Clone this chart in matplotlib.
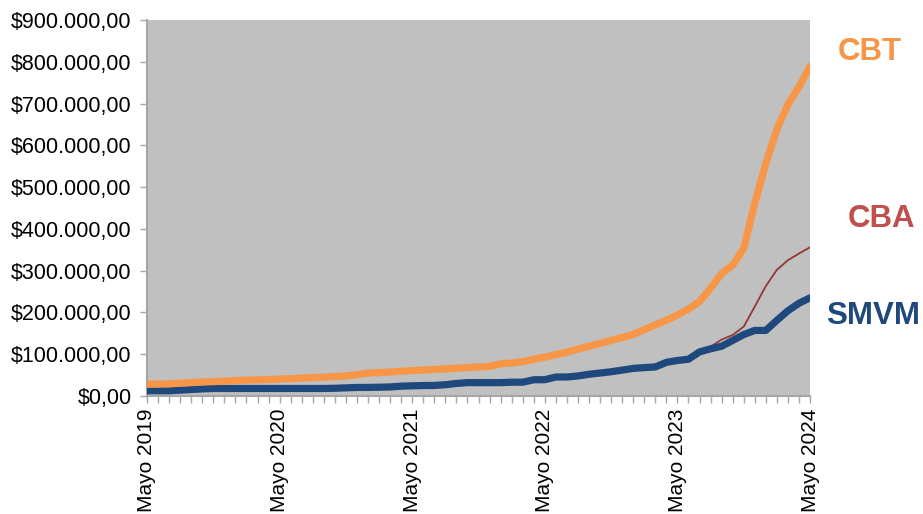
import matplotlib
matplotlib.use("Agg")
import matplotlib.pyplot as plt
from matplotlib.ticker import FuncFormatter, MultipleLocator

plt.rcParams['font.family'] = ['Liberation Sans', 'DejaVu Sans']

# meses desde mayo 2019 hasta mayo 2024 (valores en miles de $)
anios = ["Mayo 2019", "Mayo 2020", "Mayo 2021", "Mayo 2022", "Mayo 2023", "Mayo 2024"]

cbt = [28, 28.5, 29, 30.5, 32, 33.5, 34.5, 35.5, 37, 38, 38.5, 39.5, 40.5, 41.5, 43,
       44, 45, 46.5, 48, 51, 55, 56, 57.5, 59, 61, 62, 63.5, 65, 66.5, 68, 69.5,
       71, 77, 79, 82, 88, 93, 99, 105, 112, 119, 126, 133, 140, 147, 159, 170,
       181, 194, 208, 226, 258, 293, 313, 353, 461, 556, 638, 698, 740, 789]

cba = [13, 13.5, 14, 14.5, 15.5, 16.5, 17, 17.5, 18, 18.5, 18.5, 19, 19, 19.5, 19.5,
       20, 20, 20.5, 21, 21.5, 22.5, 23, 23.5, 24, 25, 25.5, 26, 27, 28.5, 30, 31,
       32, 33, 34, 35.5, 37, 39, 42, 44, 47, 50, 53, 56, 60, 64, 67, 71,
       78, 87, 92, 107, 118, 135, 146, 166, 214, 263, 302, 325, 341, 356]

smvm = [12.5, 12.5, 12.5, 14, 15.6, 17, 18, 18, 18, 18, 18, 18, 18, 18, 18,
        18, 18, 18.5, 19.5, 20.5, 20.5, 21, 21.6, 23.5, 24.4, 25, 25.3, 27, 30, 32, 32,
        32, 32, 33, 33, 38.9, 39, 45.5, 45.5, 48, 52, 55, 58, 62, 66, 68, 69.5,
        80.5, 85, 88, 105.5, 113, 119, 133, 147, 157, 157, 181, 204, 222, 235]

meses = list(range(len(cbt)))

fig = plt.figure(figsize=(9.23, 5.14), dpi=100)
ax = fig.add_axes([147/923, 1-396/514, (810-147)/923, (396-20)/514])
ax.set_facecolor('#C0C0C0')

ax.plot(meses, [v*1000 for v in cba], color='#953735', lw=1.3, zorder=2)
ax.plot(meses, [v*1000 for v in smvm], color='#1F497D', lw=5.2, zorder=3,
        solid_capstyle='round', solid_joinstyle='round')
ax.plot(meses, [v*1000 for v in cbt], color='#F79646', lw=5.2, zorder=4,
        solid_capstyle='round', solid_joinstyle='round')

ax.set_xlim(0, len(cbt)-1)
ax.set_ylim(0, 900000)
ax.yaxis.set_major_locator(MultipleLocator(100000))

def pesos(v, pos):
    s = f"{v:,.2f}"
    s = s.replace(",", "X").replace(".", ",").replace("X", ".")
    return "$" + s

ax.yaxis.set_major_formatter(FuncFormatter(pesos))
ax.set_xticks(meses, minor=True)
ax.set_xticks(meses[::12])
ax.set_xticklabels(anios, rotation=90)

for s in ['top', 'right']:
    ax.spines[s].set_visible(False)
for s in ['left', 'bottom']:
    ax.spines[s].set_color('#A6A6A6')
    ax.spines[s].set_linewidth(1.5)

ax.tick_params(axis='y', labelsize=15.5, color='#A6A6A6', length=5, width=1, pad=6)
ax.tick_params(axis='x', which='both', labelsize=15, color='#A6A6A6', length=5,
               width=1, pad=4)

fig.text(870/923, 1-52/514, "CBT", color='#F79646', fontsize=22.5, fontweight='bold',
         ha='center', va='center')
fig.text(882/923, 1-219/514, "CBA", color='#C0504D', fontsize=22.5, fontweight='bold',
         ha='center', va='center')
fig.text(873/923, 1-316/514, "SMVM", color='#1F497D', fontsize=22.5, fontweight='bold',
         ha='center', va='center')

fig.savefig("out.png", dpi=100)
